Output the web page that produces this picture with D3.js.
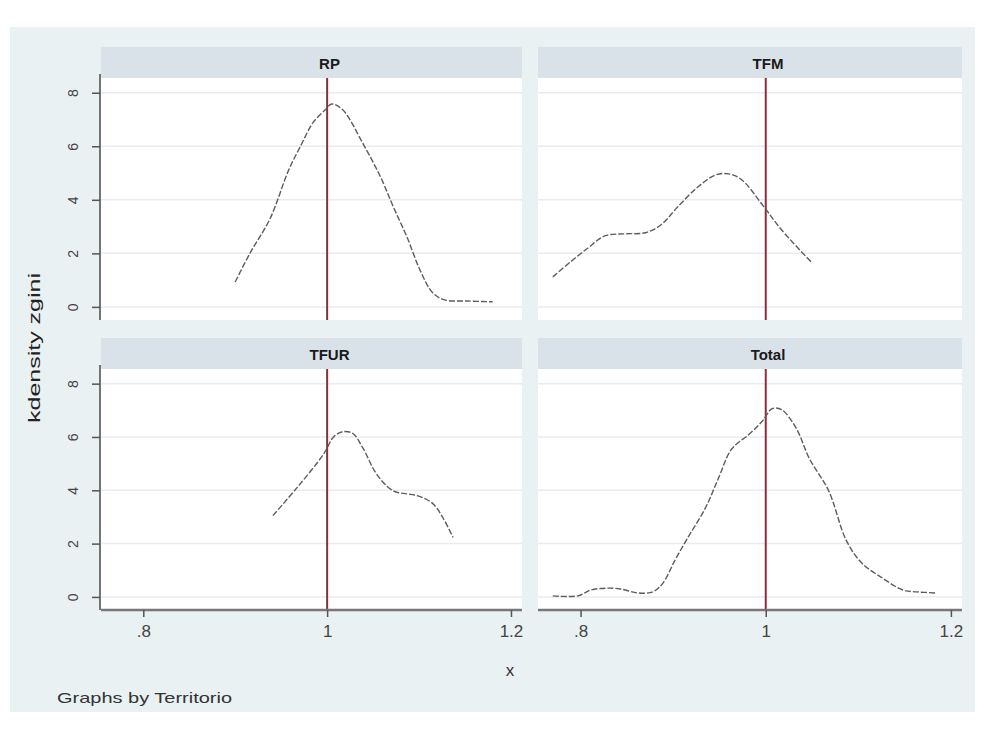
<!DOCTYPE html>
<html>
<head>
<meta charset="utf-8">
<script src="https://cdn.jsdelivr.net/npm/d3@7"></script>
<style>
  html, body { margin: 0; padding: 0; background: #ffffff; }
  svg { display: block; font-family: "Liberation Sans", Arial, sans-serif; }
</style>
</head>
<body>
<svg id="chart" width="987" height="740"></svg>
<script>
// Kernel density estimates of zgini, one panel per territory
const panelNames = ["RP", "TFM", "TFUR", "Total"];

const rpX = [0.900, 0.916, 0.938, 0.958, 0.971, 0.985, 0.998, 1.005, 1.017, 1.039, 1.058, 1.072, 1.087, 1.101, 1.115, 1.128, 1.152, 1.180];
const rpY = [0.93, 2.0, 3.3, 5.1, 6.0, 6.9, 7.36, 7.58, 7.36, 6.1, 4.86, 3.74, 2.6, 1.38, 0.52, 0.26, 0.22, 0.19];

const tfmX = [0.770, 0.789, 0.808, 0.826, 0.848, 0.870, 0.887, 0.905, 0.927, 0.946, 0.960, 0.974, 0.998, 1.017, 1.049];
const tfmY = [1.12, 1.68, 2.2, 2.65, 2.73, 2.77, 3.07, 3.74, 4.49, 4.93, 4.97, 4.75, 3.74, 2.88, 1.68];

const tfurX = [0.941, 0.967, 0.996, 1.007, 1.017, 1.028, 1.039, 1.054, 1.072, 1.098, 1.115, 1.126, 1.137];
const tfurY = [3.05, 4.09, 5.35, 6.0, 6.2, 6.13, 5.58, 4.6, 3.98, 3.8, 3.5, 2.97, 2.23];

const totalX = [0.770, 0.797, 0.811, 0.829, 0.843, 0.862, 0.878, 0.889, 0.902, 0.916, 0.935, 0.949, 0.963, 0.982, 0.996, 1.007, 1.017, 1.033, 1.047, 1.068, 1.087, 1.104, 1.126, 1.148, 1.163, 1.183];
const totalY = [0.04, 0.04, 0.26, 0.33, 0.30, 0.15, 0.19, 0.52, 1.38, 2.23, 3.35, 4.46, 5.54, 6.1, 6.58, 7.06, 7.03, 6.32, 5.2, 3.98, 2.12, 1.26, 0.71, 0.26, 0.19, 0.15];

const xTicks = [0.8, 1, 1.2];
const xTickLabels = [".8", "1", "1.2"];
const yTicks = [0, 2, 4, 6, 8];
const yTickLabels = ["0", "2", "4", "6", "8"];
const refLine = 1;

const yTitle = "kdensity zgini";
const xTitle = "x";
const note = "Graphs by Territorio";

const series = [
  { name: panelNames[0], xs: rpX, ys: rpY },
  { name: panelNames[1], xs: tfmX, ys: tfmY },
  { name: panelNames[2], xs: tfurX, ys: tfurY },
  { name: panelNames[3], xs: totalX, ys: totalY }
];

const svg = d3.select("#chart");

// graph region
svg.append("rect").attr("x", 10).attr("y", 27).attr("width", 965).attr("height", 685)
  .attr("fill", "#eaf1f3");

// panel geometry
const cols = [{ x0: 101, x1: 522 }, { x0: 538, x1: 962 }];
const rows = [{ s0: 47, s1: 78, y1: 320 }, { s0: 338, s1: 369, y1: 610 }];
const labelOffset = 18;

const xDomain = [0.754, 1.212];
const yDomain = [-0.49, 8.55];

series.forEach((s, i) => {
  const c = cols[i % 2], r = rows[Math.floor(i / 2)];
  const x = d3.scaleLinear().domain(xDomain).range([c.x0, c.x1]);
  const y = d3.scaleLinear().domain(yDomain).range([r.y1, r.s1]);
  const g = svg.append("g");

  // strip
  g.append("rect").attr("x", c.x0).attr("y", r.s0).attr("width", c.x1 - c.x0).attr("height", r.s1 - r.s0)
    .attr("fill", "#d8e2e8");
  g.append("text").attr("x", (c.x0 + c.x1) / 2 + labelOffset).attr("y", (r.s0 + r.s1) / 2 + 6)
    .attr("text-anchor", "middle").attr("font-size", 15).attr("font-weight", "bold").attr("fill", "#1a1a1a")
    .text(s.name);

  // plot region
  g.append("rect").attr("x", c.x0).attr("y", r.s1).attr("width", c.x1 - c.x0).attr("height", r.y1 - r.s1)
    .attr("fill", "#ffffff");

  // gridlines
  g.selectAll(".grid").data(yTicks).join("line")
    .attr("x1", c.x0).attr("x2", c.x1)
    .attr("y1", d => y(d)).attr("y2", d => y(d))
    .attr("stroke", "#e6edf0").attr("stroke-width", 1.5);

  // reference line at x = 1
  g.append("line").attr("x1", x(refLine)).attr("x2", x(refLine))
    .attr("y1", r.s1).attr("y2", r.y1)
    .attr("stroke", "#8a2e3e").attr("stroke-width", 2);

  // density curve
  const pts = s.xs.map((v, k) => [v, s.ys[k]]);
  g.append("path").datum(pts)
    .attr("d", d3.line().x(d => x(d[0])).y(d => y(d[1])).curve(d3.curveCatmullRom.alpha(0.5)))
    .attr("fill", "none").attr("stroke", "#5c5c5c").attr("stroke-width", 1.4)
    .attr("stroke-dasharray", "6,2");

  // y axis on left column
  if (i % 2 === 0) {
    const ya = g.append("g").attr("transform", `translate(${c.x0 - 1},0)`)
      .call(d3.axisLeft(y).tickValues(yTicks).tickFormat((d, k) => yTickLabels[k]).tickSize(8).tickPadding(19));
    ya.select(".domain").attr("d", `M0,${r.s1 - 4}V${r.y1}`).attr("stroke", "#666").attr("stroke-width", 1.8);
    ya.selectAll(".tick line").attr("stroke", "#555").attr("stroke-width", 1.5);
    ya.selectAll(".tick text").attr("font-size", 14).attr("fill", "#444")
      .attr("text-anchor", "middle").attr("dy", "0.35em")
      .attr("transform", function () {
        const tx = +d3.select(this).attr("x");
        return `rotate(-90,${tx},0)`;
      });
  }

  // x axis on bottom row
  if (Math.floor(i / 2) === 1) {
    const xa = g.append("g").attr("transform", `translate(0,${r.y1})`)
      .call(d3.axisBottom(x).tickValues(xTicks).tickFormat((d, k) => xTickLabels[k]).tickSize(7).tickPadding(8));
    xa.select(".domain").attr("d", `M${c.x0},0H${c.x1}`).attr("stroke", "#777").attr("stroke-width", 2.5);
    xa.selectAll(".tick line").attr("stroke", "#555").attr("stroke-width", 1.5);
    xa.selectAll(".tick text").attr("font-size", 17).attr("fill", "#444");
  }
});

// axis titles and note
svg.append("text").attr("transform", "translate(40,348) rotate(-90)")
  .attr("text-anchor", "middle").attr("font-size", 16).attr("fill", "#222")
  .attr("textLength", 150).attr("lengthAdjust", "spacingAndGlyphs").text(yTitle);
svg.append("text").attr("x", 510).attr("y", 676).attr("text-anchor", "middle")
  .attr("font-size", 17).attr("fill", "#333").text(xTitle);
svg.append("text").attr("x", 57).attr("y", 703).attr("font-size", 15).attr("fill", "#333")
  .attr("textLength", 175).attr("lengthAdjust", "spacingAndGlyphs").text(note);
</script>
</body>
</html>
